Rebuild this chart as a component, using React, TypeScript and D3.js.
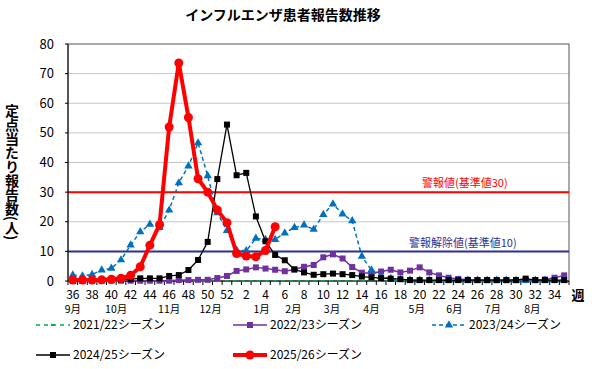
import React from "react";
import * as d3 from "d3";

// week numbers of the season (36th week .. 35th week of next year)
const weeks = [36, 37, 38, 39, 40, 41, 42, 43, 44, 45, 46, 47, 48, 49, 50, 51, 52,
  1, 2, 3, 4, 5, 6, 7, 8, 9, 10, 11, 12, 13, 14, 15, 16, 17, 18, 19, 20,
  21, 22, 23, 24, 25, 26, 27, 28, 29, 30, 31, 32, 33, 34, 35];

const months = ["9月", "10月", "11月", "12月", "1月", "2月", "3月", "4月", "5月", "6月", "7月", "8月"];
// week (as category index) under which each month label sits
const monthAt = [0, 4.5, 10, 14.3, 19.6, 22.9, 26.9, 31, 35.7, 39.6, 43.6, 47.7];

const yTicks = [0, 10, 20, 30, 40, 50, 60, 70, 80];

const s2021 = [0, 0, 0, 0, 0, 0, 0, 0, 0, 0, 0, 0, 0, 0, 0, 0, 0, 0, 0, 0, 0, 0, 0, 0, 0, 0,
  0, 0, 0, 0, 0, 0, 0, 0, 0, 0, 0, 0, 0, 0, 0, 0, 0, 0, 0, 0, 0, 0, 0, 0, 0, 0];
const s2022 = [0.1, 0.1, 0.1, 0.1, 0.1, 0.1, 0.1, 0.1, 0.1, 0.1, 0.1, 0.3, 0.3, 0.4, 0.4, 1.0, 1.7,
  3.4, 3.9, 4.6, 4.2, 3.8, 3.3, 3.9, 4.8, 5.4, 8.0, 9.0, 7.6, 4.7, 2.8, 2.6, 3.2, 3.8, 2.9, 3.5,
  4.6, 2.9, 1.9, 1.1, 0.7, 0.4, 0.3, 0.3, 0.3, 0.3, 0.3, 0.3, 0.3, 0.5, 1.1, 1.9];
const s2023 = [2.0, 1.7, 2.2, 3.7, 4.3, 7.1, 12.1, 16.6, 19.1, 18.0, 23.9, 33.1, 38.8, 46.6, 35.5,
  23.0, 17.0, 10.4, 10.2, 14.4, 14.0, 14.0, 16.2, 18.0, 18.9, 17.4, 22.4, 26.0, 22.6, 20.3, 8.3,
  3.7, 1.5, 0.8, 0.5, 0.3, 0.2, 0.2, 0.2, 0.2, 0.2, 0.2, 0.2, 0.2, 0.2, 0.2, 0.2, 0.2, 0.2, 0.2, 0.2, 0.2];
const s2024 = [0.2, 0.2, 0.3, 0.3, 0.4, 0.5, 0.6, 0.9, 0.9, 0.9, 1.7, 2.0, 3.7, 7.1, 13.2, 34.4,
  52.8, 35.7, 36.5, 21.8, 13.4, 8.8, 7.0, 3.9, 2.9, 2.1, 2.3, 2.5, 2.3, 2.0, 1.5, 1.2, 1.0, 0.8,
  0.6, 0.3, 0.3, 0.3, 0.3, 0.3, 0.3, 0.3, 0.3, 0.3, 0.3, 0.3, 0.3, 0.8, 0.3, 0.3, 0.3, 0.3];
const s2025 = [0.3, 0.3, 0.3, 0.4, 0.6, 0.9, 1.9, 4.8, 12.1, 19.0, 52.0, 73.6, 55.2, 34.5, 30.0,
  24.0, 19.7, 9.3, 8.4, 8.2, 10.3, 18.3];

const alertLevel = 30;
const clearLevel = 10;

const font = "'Noto Sans CJK JP', 'Noto Sans', sans-serif";

export default function App() {
  const W = 596, H = 369;
  const left = 68, right = 569, top = 44, bottom = 281;

  const x = d3.scaleBand<number>().domain(weeks.map((_, i) => i)).range([left, right]).padding(0);
  const cx = (i: number) => (x(i) as number) + x.bandwidth() / 2;
  const y = d3.scaleLinear().domain([0, 80]).range([bottom, top]);

  const line = d3.line<number>().x((_, i) => cx(i)).y(d => y(d));

  const tri = d3.symbol().type(d3.symbolTriangle).size(30)();

  const legendRows = [
    { label: "2021/22シーズン", x: 36, y: 325, kind: "green" },
    { label: "2022/23シーズン", x: 233, y: 325, kind: "purple" },
    { label: "2023/24シーズン", x: 432, y: 325, kind: "blue" },
    { label: "2024/25シーズン", x: 36, y: 355, kind: "black" },
    { label: "2025/26シーズン", x: 233, y: 355, kind: "red" },
  ];

  const marker = (kind: string, px: number, py: number, key: any) => {
    if (kind === "purple") return <rect key={key} x={px - 3} y={py - 3} width={6} height={6} fill="#7030a0" />;
    if (kind === "black") return <rect key={key} x={px - 3} y={py - 3} width={6} height={6} fill="#000" />;
    if (kind === "blue") return <path key={key} d={tri as string} transform={`translate(${px},${py})`} fill="#0070c0" />;
    if (kind === "red") return <circle key={key} cx={px} cy={py} r={4.5} fill="#ff0000" />;
    return <rect key={key} x={px - 2} y={py - 1} width={4} height={2} fill="#00b050" />;
  };
  const styleOf: Record<string, any> = {
    green: { stroke: "#00b050", width: 1.5, dash: "4,4" },
    purple: { stroke: "#7030a0", width: 1.5, dash: undefined },
    blue: { stroke: "#0070c0", width: 1.5, dash: "4,3" },
    black: { stroke: "#000", width: 1.3, dash: undefined },
    red: { stroke: "#ff0000", width: 4, dash: undefined },
  };
  const series: [string, number[]][] = [
    ["green", s2021], ["purple", s2022], ["blue", s2023], ["black", s2024], ["red", s2025],
  ];

  return (
    <svg width={W} height={H} style={{ position: "absolute", left: 0, top: 0, background: "#fff", fontFamily: font }}>
      <text x={283} y={20} textAnchor="middle" fontSize={14} fontWeight="bold">インフルエンザ患者報告数推移</text>

      {/* grid */}
      {yTicks.filter(t => t > 0 && t < 80).map(t => (
        <line key={t} x1={left} x2={right} y1={y(t)} y2={y(t)} stroke="#c8c8c8" strokeWidth={1} />
      ))}
      <rect x={left} y={top} width={right - left} height={bottom - top} fill="none" stroke="#555" strokeWidth={1} />

      {/* alert lines */}
      <line x1={left} x2={right} y1={y(alertLevel)} y2={y(alertLevel)} stroke="#ff0000" strokeWidth={2} />
      <line x1={left} x2={right} y1={y(clearLevel)} y2={y(clearLevel)} stroke="#2e3192" strokeWidth={2} />
      <text x={422} y={187} fontSize={11} fill="#ff0000">警報値(基準値30)</text>
      <text x={409} y={247} fontSize={11} fill="#2e3192">警報解除値(基準値10)</text>

      {/* axes */}
      <line x1={left} x2={left} y1={top} y2={bottom} stroke="#000" />
      <line x1={left} x2={right} y1={bottom} y2={bottom} stroke="#000" />
      {yTicks.map(t => (
        <g key={t}>
          <line x1={left - 3} x2={left} y1={y(t)} y2={y(t)} stroke="#000" />
          <text x={54} y={y(t) + 4.5} textAnchor="end" fontSize={13}>{t}</text>
        </g>
      ))}
      {weeks.map((w, i) => (
        <line key={"t" + i} x1={x(i) as number} x2={x(i) as number} y1={bottom} y2={bottom + 4} stroke="#000" />
      ))}
      <line x1={right} x2={right} y1={bottom} y2={bottom + 4} stroke="#000" />
      {weeks.map((w, i) => i % 2 === 0 ? (
        <text key={"w" + i} x={cx(i)} y={299} textAnchor="middle" fontSize={12}>{w}</text>
      ) : null)}
      {months.map((m, i) => (
        <text key={m} x={left + (monthAt[i] + 0.5) * x.bandwidth()} y={312.5} textAnchor="middle" fontSize={10.5}>{m}</text>
      ))}
      <text x={578} y={300} textAnchor="middle" fontSize={13} fontWeight="bold">週</text>

      <text x={12} y={172} fontSize={14} fontWeight="bold" textAnchor="middle"
        style={{ writingMode: "vertical-rl" as any }}>定点当たり報告数(人)</text>

      {/* series */}
      {series.map(([kind, vals]) => {
        const st = styleOf[kind];
        return (
          <g key={kind}>
            <path d={line(vals) as string} fill="none" stroke={st.stroke} strokeWidth={st.width}
              strokeDasharray={st.dash} strokeLinejoin="round" />
            {kind !== "green" && vals.map((v, i) => marker(kind, cx(i), y(v), i))}
          </g>
        );
      })}

      {/* legend */}
      {legendRows.map(r => {
        const st = styleOf[r.kind];
        return (
          <g key={r.label}>
            <line x1={r.x} x2={r.x + 34} y1={r.y} y2={r.y} stroke={st.stroke} strokeWidth={st.width}
              strokeDasharray={st.dash} />
            {marker(r.kind, r.x + 17, r.y, "m")}
            <text x={r.x + 37} y={r.y + 4.3} fontSize={12}>{r.label}</text>
          </g>
        );
      })}
    </svg>
  );
}
